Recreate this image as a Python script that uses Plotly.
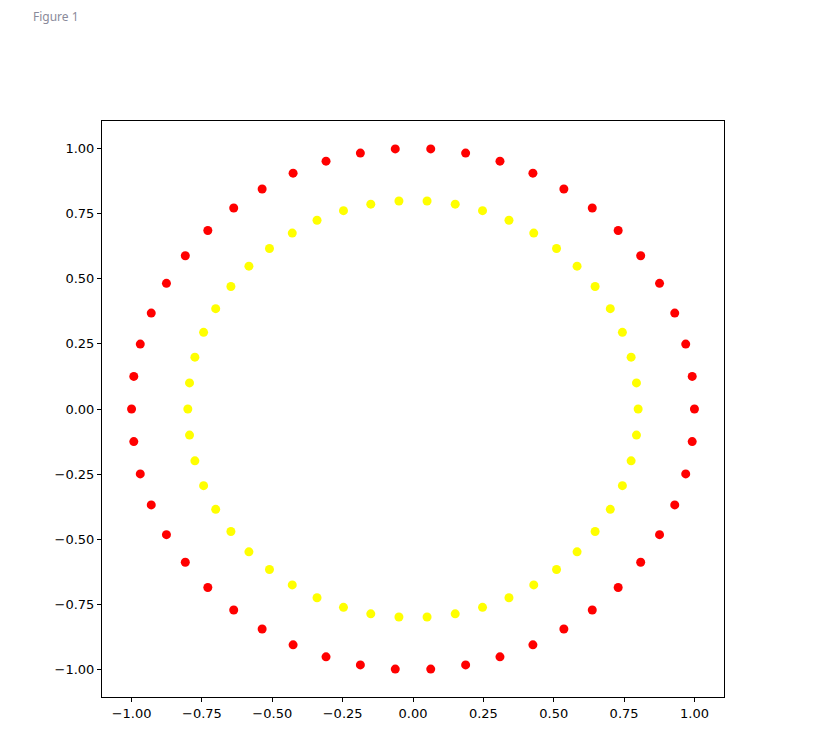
import plotly.graph_objects as go

outer_x = [1.000, 0.992, 0.969, 0.930, 0.876, 0.809, 0.729, 0.637, 0.536, 0.426,
           0.309, 0.187, 0.063, -0.063, -0.187, -0.309, -0.426, -0.536, -0.637, -0.729,
           -0.809, -0.876, -0.930, -0.969, -0.992, -1.000, -0.992, -0.969, -0.930, -0.876,
           -0.809, -0.729, -0.637, -0.536, -0.426, -0.309, -0.187, -0.063, 0.063, 0.187,
           0.309, 0.426, 0.536, 0.637, 0.729, 0.809, 0.876, 0.930, 0.969, 0.992]
outer_y = [0.000, 0.125, 0.249, 0.368, 0.482, 0.588, 0.685, 0.771, 0.844, 0.905,
           0.951, 0.982, 0.998, 0.998, 0.982, 0.951, 0.905, 0.844, 0.771, 0.685,
           0.588, 0.482, 0.368, 0.249, 0.125, 0.000, -0.125, -0.249, -0.368, -0.482,
           -0.588, -0.685, -0.771, -0.844, -0.905, -0.951, -0.982, -0.998, -0.998, -0.982,
           -0.951, -0.905, -0.844, -0.771, -0.685, -0.588, -0.482, -0.368, -0.249, -0.125]
inner_x = [0.800, 0.794, 0.775, 0.744, 0.701, 0.647, 0.583, 0.510, 0.429, 0.341,
           0.247, 0.150, 0.050, -0.050, -0.150, -0.247, -0.341, -0.429, -0.510, -0.583,
           -0.647, -0.701, -0.744, -0.775, -0.794, -0.800, -0.794, -0.775, -0.744, -0.701,
           -0.647, -0.583, -0.510, -0.429, -0.341, -0.247, -0.150, -0.050, 0.050, 0.150,
           0.247, 0.341, 0.429, 0.510, 0.583, 0.647, 0.701, 0.744, 0.775, 0.794]
inner_y = [0.000, 0.100, 0.199, 0.294, 0.385, 0.470, 0.548, 0.616, 0.675, 0.724,
           0.761, 0.786, 0.798, 0.798, 0.786, 0.761, 0.724, 0.675, 0.616, 0.548,
           0.470, 0.385, 0.294, 0.199, 0.100, 0.000, -0.100, -0.199, -0.294, -0.385,
           -0.470, -0.548, -0.616, -0.675, -0.724, -0.761, -0.786, -0.798, -0.798, -0.786,
           -0.761, -0.724, -0.675, -0.616, -0.548, -0.470, -0.385, -0.294, -0.199, -0.100]

tick_vals = [-1.0, -0.75, -0.5, -0.25, 0.0, 0.25, 0.5, 0.75, 1.0]
tick_text = ["\u22121.00", "\u22120.75", "\u22120.50", "\u22120.25", "0.00", "0.25", "0.50", "0.75", "1.00"]

fig = go.Figure()
fig.add_trace(go.Scatter(x=outer_x, y=outer_y, mode="markers",
                         marker=dict(color="#ff0000", size=9, line=dict(width=0)), showlegend=False))
fig.add_trace(go.Scatter(x=inner_x, y=inner_y, mode="markers",
                         marker=dict(color="#ffff00", size=9, line=dict(width=0)), showlegend=False))

axis_common = dict(
    tickvals=tick_vals, ticktext=tick_text, ticks="outside", ticklen=4, tickwidth=1,
    tickcolor="black", showline=True, linecolor="black", linewidth=1, mirror=True,
    showgrid=False, zeroline=False, tickfont=dict(family="DejaVu Sans", size=13, color="black"),
)
fig.update_xaxes(range=[-1.105, 1.105], **axis_common)
fig.update_yaxes(range=[-1.105, 1.105], **axis_common)

fig.add_annotation(text="Figure 1", xref="paper", yref="paper", x=-0.114, y=1.182,
                   xanchor="left", yanchor="middle", showarrow=False,
                   font=dict(family="Noto Sans", size=12, color="#8a8a9a"))

fig.update_layout(
    width=813, height=734,
    margin=dict(l=102, r=89, t=121, b=37),
    paper_bgcolor="white", plot_bgcolor="white",
)
fig.write_html("out.html")
